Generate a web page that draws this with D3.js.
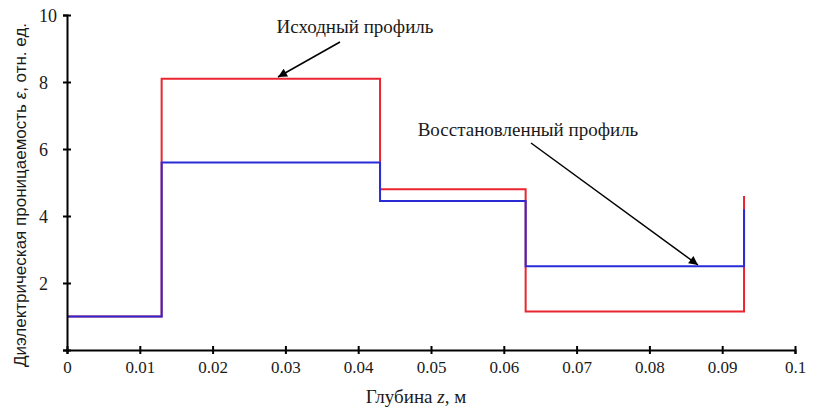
<!DOCTYPE html>
<html>
<head>
<meta charset="utf-8">
<script src="https://cdn.jsdelivr.net/npm/d3@7"></script>
<style>
  html, body { margin: 0; padding: 0; background: #fff; }
  svg { display: block; }
  .serif { font-family: "Liberation Serif", "DejaVu Serif", "Times New Roman", serif; }
  .sans { font-family: "Liberation Sans", Arial, sans-serif; }
</style>
</head>
<body>
<svg id="chart" width="816" height="410"></svg>
<script>
// ---- Data ----
const depthEdges = [0, 0.013, 0.043, 0.063, 0.093];          // layer boundaries, m
const originalProfile = [1.0, 8.1, 4.8, 1.15, 4.6];          // Исходный профиль
const restoredProfile = [1.0, 5.6, 4.45, 2.5, 4.2];          // Восстановленный профиль
const xTicks = [0, 0.01, 0.02, 0.03, 0.04, 0.05, 0.06, 0.07, 0.08, 0.09, 0.1];
const xTickLabels = ["0", "0.01", "0.02", "0.03", "0.04", "0.05", "0.06", "0.07", "0.08", "0.09", "0.1"];
const yTicks = [0, 2, 4, 6, 8, 10];
const yTickLabels = ["", "2", "4", "6", "8", "10"];

// ---- Layout ----
const svg = d3.select("#chart");
const x = d3.scaleLinear().domain([0, 0.1]).range([67, 795]);
const y = d3.scaleLinear().domain([0, 10]).range([350, 15]);

// ---- Profiles ----
const line = d3.line()
  .x(d => x(d[0]))
  .y(d => y(d[1]))
  .curve(d3.curveStepAfter);

function pts(vals) { return depthEdges.map((z, i) => [z, vals[i]]); }

svg.append("path").attr("d", line(pts(originalProfile)))
  .attr("fill", "none").attr("stroke", "#ea2530").attr("stroke-width", 2);
svg.append("path").attr("d", line(pts(restoredProfile)))
  .attr("fill", "none").attr("stroke", "#2b2bd6").attr("stroke-width", 2);

// ---- Axes ----
const xAxis = svg.append("g").attr("transform", `translate(0,${y(0)})`)
  .call(d3.axisBottom(x).tickValues(xTicks).tickFormat((d, i) => xTickLabels[i]).tickSizeOuter(0).tickSize(4).tickPadding(7));
xAxis.attr("font-family", null).attr("font-size", null).attr("class", "serif");
xAxis.select(".domain").attr("stroke", "#000").attr("stroke-width", 2);
xAxis.selectAll(".tick line").attr("y1", -4).attr("y2", 4).attr("stroke-width", 2);
xAxis.selectAll(".tick text").style("font-size", "17px").attr("fill", "#1a1a1a");

const yAxis = svg.append("g").attr("transform", `translate(${x(0)},0)`)
  .call(d3.axisLeft(y).tickValues(yTicks).tickFormat((d, i) => yTickLabels[i]).tickSizeOuter(0).tickSize(4));
yAxis.attr("font-family", null).attr("font-size", null).attr("class", "serif");
yAxis.select(".domain").attr("stroke", "#000").attr("stroke-width", 2);
yAxis.selectAll(".tick line").attr("x1", -4).attr("x2", 4).attr("stroke-width", 2);
yAxis.selectAll(".tick text").style("font-size", "18px").attr("fill", "#1a1a1a")
  .attr("text-anchor", "start").attr("x", 39 - x(0)).attr("dy", "0.35em");

// ---- Axis titles ----
const xt = svg.append("text").attr("class", "serif").attr("x", 416).attr("y", 403).attr("text-anchor", "middle")
  .style("font-size", "19px").attr("fill", "#1a1a1a");
xt.append("tspan").text("Глубина ");
xt.append("tspan").attr("font-style", "italic").text("z");
xt.append("tspan").text(", м");

const yt = svg.append("text").attr("class", "sans").attr("transform", `translate(26,195) rotate(-90)`)
  .attr("text-anchor", "middle").style("font-size", "17px").attr("fill", "#1a1a1a");
yt.append("tspan").text("Диэлектрическая проницаемость ");
yt.append("tspan").attr("font-style", "italic").text("ε");
yt.append("tspan").text(", отн. ед.");

// ---- Annotations ----
svg.append("defs").append("marker").attr("id", "arr")
  .attr("viewBox", "0 0 10 10").attr("refX", 10).attr("refY", 5)
  .attr("markerWidth", 11).attr("markerHeight", 9).attr("markerUnits", "userSpaceOnUse")
  .attr("orient", "auto")
  .append("path").attr("d", "M0,0 L10,5 L0,10 Z").attr("fill", "#000");

svg.append("text").attr("class", "serif").attr("x", 355).attr("y", 33).attr("text-anchor", "middle")
  .style("font-size", "19px").attr("fill", "#1a1a1a").text("Исходный профиль");
svg.append("line").attr("x1", 340).attr("y1", 42).attr("x2", 278).attr("y2", 77)
  .attr("stroke", "#000").attr("stroke-width", 1.5).attr("marker-end", "url(#arr)");

svg.append("text").attr("class", "serif").attr("x", 528).attr("y", 136).attr("text-anchor", "middle")
  .style("font-size", "19px").attr("fill", "#1a1a1a").text("Восстановленный профиль");
svg.append("line").attr("x1", 531).attr("y1", 143).attr("x2", 698).attr("y2", 265)
  .attr("stroke", "#000").attr("stroke-width", 1.5).attr("marker-end", "url(#arr)");
</script>
</body>
</html>
